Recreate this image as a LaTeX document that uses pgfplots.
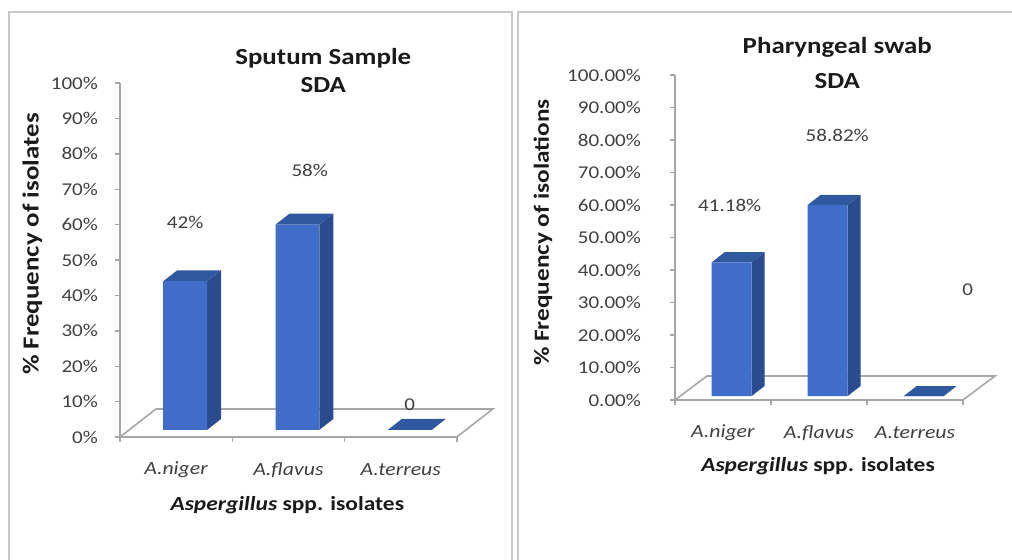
\documentclass[border=0pt]{standalone}
\usepackage{pgfplots}
\pgfplotsset{compat=1.18}
\usepackage{fontspec}
\setmainfont{Carlito}[FakeStretch=1.17]
\definecolor{barfront}{HTML}{3F6DC8}
\definecolor{barside}{HTML}{2A4C8E}
\definecolor{bartop}{HTML}{30589F}
\definecolor{axgray}{HTML}{A6A6A6}
\definecolor{txtgray}{HTML}{404040}
\definecolor{titlecol}{HTML}{1A1A1A}
\definecolor{framegray}{HTML}{C8C8C8}

% #1 category, #2 value, #3 shift, #4 width, #5 base, #6 dx, #7 dy
\newcommand\tdbar[7]{%
  \pgfmathsetmacro\xl{#1+#3-#4/2}%
  \pgfmathsetmacro\xr{#1+#3+#4/2}%
  \pgfmathsetmacro\yb{#5}%
  \pgfmathsetmacro\yt{#5+#2}%
  \pgfmathsetmacro\xlb{\xl+#6}%
  \pgfmathsetmacro\xrb{\xr+#6}%
  \pgfmathsetmacro\ybb{\yb+#7}%
  \pgfmathsetmacro\ytb{\yt+#7}%
  \addplot[fill=barside,draw=none] coordinates {(\xr,\yb) (\xrb,\ybb) (\xrb,\ytb) (\xr,\yt) (\xr,\yb)};
  \addplot[fill=bartop,draw=none] coordinates {(\xl,\yt) (\xr,\yt) (\xrb,\ytb) (\xlb,\ytb) (\xl,\yt)};
  \addplot[fill=barfront,draw=none] coordinates {(\xl,\yb) (\xr,\yb) (\xr,\yt) (\xl,\yt) (\xl,\yb)};
}

\pgfplotsset{
  chart3d/.style={
    scale only axis, anchor=south west,
    xmin=-0.5, xmax=3.0, ymin=0, ymax=100,
    clip=false, axis line style={draw=none},
    tick pos=left, tick align=outside,
    major tick length=2.5pt,
    tick style={axgray, line width=0.7pt},
    xtick={-0.5,0.5,1.5,2.5}, xticklabels={},
    extra x ticks={0,1,2},
    extra x tick labels={\textit{A.niger},\textit{A.flavus},\textit{A.terreus}},
    extra x tick style={major tick length=0pt},
    ytick={0,10,...,100},
    /pgf/number format/assume math mode=true,
    yticklabel style={font=\fontsize{9}{10}\selectfont, text=txtgray, xshift=-5pt},
    xticklabel style={font=\fontsize{9.3}{10}\selectfont, text=txtgray, anchor=center, yshift=-16.5pt},
  }
}

\begin{document}
\begin{tikzpicture}
\useasboundingbox (0,0) rectangle (506pt,279.5pt);
\draw[framegray, line width=1pt] (4.5pt,-20pt) -- (4.5pt,273.5pt) -- (256pt,273.5pt) -- (256pt,-20pt);
\draw[framegray, line width=1pt] (259pt,-20pt) -- (259pt,273.5pt) -- (520pt,273.5pt);

% ---------------- Left: Sputum sample ----------------
\begin{axis}[chart3d, at={(60pt,61pt)}, width=196.5pt, height=177pt,
  yticklabel={\pgfmathprintnumber{\tick}\%}]
  \addplot[axgray, line width=0.8pt, fill=white] coordinates {(-0.5,0) (2.5,0) (2.82,7.9) (-0.18,7.9) (-0.5,0)};
  \addplot[axgray, line width=0.8pt] coordinates {(-0.5,0) (-0.5,100)};
  \tdbar{0}{42}{0.08}{0.39}{2}{0.125}{3.1}
  \tdbar{1}{58}{0.08}{0.39}{2}{0.125}{3.1}
  \tdbar{2}{0}{0.08}{0.39}{2}{0.125}{3.1}
  \node[font=\fontsize{9}{10}\selectfont, text=txtgray] at (axis cs:0.08,60.7) {42\%};
  \node[font=\fontsize{9}{10}\selectfont, text=txtgray] at (axis cs:1.19,75.4) {58\%};
  \node[font=\fontsize{9}{10}\selectfont, text=txtgray] at (axis cs:2.08,9) {0};
  \node[font=\bfseries\fontsize{11.5}{14}\selectfont, align=center, text=titlecol] at (axis cs:1.31,103.4) {Sputum Sample\\SDA};
  \node[font=\bfseries\fontsize{11.5}{12}\selectfont, rotate=90, text=titlecol] at (axis cs:-1.28,54.5) {\% Frequency of isolates};
  \node[font=\bfseries\fontsize{10}{12}\selectfont, text=titlecol] at (axis cs:0.99,-19.2) {\textit{Aspergillus} spp. isolates};
\end{axis}

% ---------------- Right: Pharyngeal swab ----------------
\begin{axis}[chart3d, at={(337.5pt,79.5pt)}, width=168pt, height=162.5pt,
  yticklabel={\pgfmathprintnumber[fixed,fixed zerofill,precision=2]{\tick}\%},
  yticklabel style={xshift=-6pt}]
  \addplot[axgray, line width=0.8pt, fill=white] coordinates {(-0.5,0) (2.5,0) (2.833,7.4) (-0.167,7.4) (-0.5,0)};
  \addplot[axgray, line width=0.8pt] coordinates {(-0.5,0) (-0.5,100)};
  \tdbar{0}{41.18}{0.09}{0.415}{1.2}{0.135}{3.1}
  \tdbar{1}{58.82}{0.09}{0.415}{1.2}{0.135}{3.1}
  \tdbar{2}{0}{0.09}{0.415}{1.2}{0.135}{3.1}
  \node[font=\fontsize{9}{10}\selectfont, text=txtgray] at (axis cs:0.07,60) {41.18\%};
  \node[font=\fontsize{9}{10}\selectfont, text=txtgray] at (axis cs:1.19,81.5) {58.82\%};
  \node[font=\fontsize{9}{10}\selectfont, text=txtgray] at (axis cs:2.55,33.8) {0};
  \node[font=\bfseries\fontsize{11.5}{17.5}\selectfont, align=center, text=titlecol] at (axis cs:1.19,103.8) {Pharyngeal swab\\SDA};
  \node[font=\bfseries\fontsize{10.8}{12}\selectfont, rotate=90, text=titlecol] at (axis cs:-1.875,51.5) {\% Frequency of isolations};
  \node[font=\bfseries\fontsize{10}{12}\selectfont, text=titlecol] at (axis cs:0.99,-20.3) {\textit{Aspergillus} spp. isolates};
\end{axis}
\end{tikzpicture}
\end{document}
